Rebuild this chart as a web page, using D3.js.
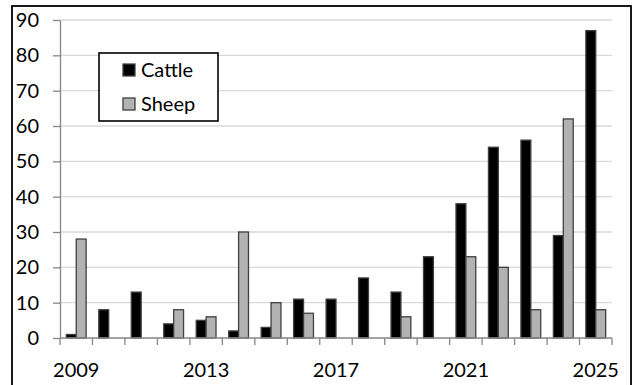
<!DOCTYPE html>
<html>
<head>
<meta charset="utf-8">
<script src="https://cdn.jsdelivr.net/npm/d3@7/dist/d3.min.js"></script>
<style>
  html, body { margin: 0; padding: 0; background: #fff; }
  svg { display: block; }
  text { font-family: Lato, "Open Sans", sans-serif; fill: #000; }
</style>
</head>
<body>
<svg id="chart" width="633" height="385"></svg>
<script>
// Yearly counts per species
const years = [2009, 2010, 2011, 2012, 2013, 2014, 2015, 2016, 2017,
               2018, 2019, 2020, 2021, 2022, 2023, 2024, 2025];
const cattle = [1, 8, 13, 4, 5, 2, 3, 11, 11, 17, 13, 23, 38, 54, 56, 29, 87];
const sheep  = [28, null, null, 8, 6, 30, 10, 7, null, null, 6, null, 23, 20, 8, 62, 8];
const yTicks = [0, 10, 20, 30, 40, 50, 60, 70, 80, 90];
const xLabelYears = [2009, 2013, 2017, 2021, 2025];
const seriesNames = ["Cattle", "Sheep"];

const svg = d3.select("#chart");
const plot = { left: 60, right: 612, top: 20, bottom: 338 };

const x = d3.scaleBand()
  .domain(years)
  .range([plot.left, plot.right])
  .paddingInner(0)
  .paddingOuter(0);

const barW = x.bandwidth() * 0.305;
const sideGap = (x.bandwidth() - 2 * barW) / 2;

const y = d3.scaleLinear().domain([0, 90]).range([plot.bottom, plot.top]);

// outer chart frame
svg.append("rect")
  .attr("x", 12).attr("y", 6)
  .attr("width", 619).attr("height", 390)
  .attr("fill", "none").attr("stroke", "#000").attr("stroke-width", 1.8);

// horizontal gridlines
svg.append("g")
  .selectAll("line")
  .data(yTicks.filter(d => d > 0))
  .join("line")
  .attr("x1", plot.left).attr("x2", plot.right)
  .attr("y1", d => y(d)).attr("y2", d => y(d))
  .attr("stroke", "#d9d9d9").attr("stroke-width", 1.4);

// y axis
const yAxis = svg.append("g")
  .attr("transform", `translate(${plot.left},0)`)
  .call(d3.axisLeft(y).tickValues(yTicks).tickSize(7).tickPadding(14).tickSizeOuter(0));
yAxis.select(".domain").attr("stroke", "#868686").attr("stroke-width", 1.3);
yAxis.selectAll(".tick line").attr("stroke", "#868686").attr("stroke-width", 1.3);
yAxis.selectAll(".tick text")
  .style("font-family", "Lato, sans-serif").style("font-size", "20px").attr("fill", "#000");

// bars
const cattleData = years.map((yr, i) => ({ yr, v: cattle[i] })).filter(d => d.v != null);
const sheepData = years.map((yr, i) => ({ yr, v: sheep[i] })).filter(d => d.v != null);

svg.append("g").selectAll("rect")
  .data(cattleData)
  .join("rect")
  .attr("x", d => x(d.yr) + sideGap)
  .attr("width", barW)
  .attr("y", d => y(d.v))
  .attr("height", d => y(0) - y(d.v))
  .attr("fill", "#000").attr("stroke", "#404040").attr("stroke-width", 1.3);

svg.append("g").selectAll("rect")
  .data(sheepData)
  .join("rect")
  .attr("x", d => x(d.yr) + sideGap + barW)
  .attr("width", barW)
  .attr("y", d => y(d.v))
  .attr("height", d => y(0) - y(d.v))
  .attr("fill", "#b2b2b2").attr("stroke", "#404040").attr("stroke-width", 1.3);

// x axis line and category ticks at band boundaries
const xAxisG = svg.append("g");
xAxisG.append("line")
  .attr("x1", plot.left).attr("x2", plot.right)
  .attr("y1", plot.bottom).attr("y2", plot.bottom)
  .attr("stroke", "#868686").attr("stroke-width", 1.3);
xAxisG.selectAll("line.tk")
  .data(years.map(yr => x(yr)).concat([plot.right]))
  .join("line")
  .attr("class", "tk")
  .attr("x1", d => d).attr("x2", d => d)
  .attr("y1", plot.bottom).attr("y2", plot.bottom + 7)
  .attr("stroke", "#868686").attr("stroke-width", 1.3);
xAxisG.selectAll("text")
  .data(xLabelYears)
  .join("text")
  .attr("x", d => x(d) + x.bandwidth() / 2)
  .attr("y", 377)
  .attr("text-anchor", "middle")
  .style("font-size", "20px")
  .text(d => d);

// legend
const legend = svg.append("g");
legend.append("rect")
  .attr("x", 99).attr("y", 53).attr("width", 119).attr("height", 68)
  .attr("fill", "#fff").attr("stroke", "#000").attr("stroke-width", 1.6);
const legendFill = ["#000", "#b2b2b2"];
const legendRows = legend.selectAll("g.row")
  .data(seriesNames)
  .join("g")
  .attr("class", "row")
  .attr("transform", (d, i) => `translate(123, ${64 + i * 34})`);
legendRows.append("rect")
  .attr("width", 12).attr("height", 12)
  .attr("fill", (d, i) => legendFill[i])
  .attr("stroke", "#404040").attr("stroke-width", 1.3);
legendRows.append("text")
  .attr("x", 18).attr("y", 12.5)
  .style("font-size", "20px")
  .text(d => d);
</script>
</body>
</html>
